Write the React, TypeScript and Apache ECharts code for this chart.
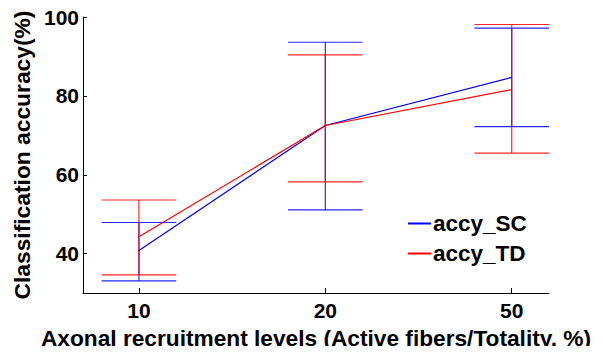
import React, { useEffect, useRef } from "react";
import * as echarts from "echarts";

const categories = ["10", "20", "50"];
const positions = [1, 2, 3];
const yTicks = [40, 60, 80, 100];

const scMean = [40.8, 72.5, 84.7];
const scUpper = [47.9, 93.6, 97.2];
const scLower = [33.1, 51.1, 72.2];

const tdMean = [44.3, 72.5, 81.6];
const tdUpper = [53.6, 90.4, 98.1];
const tdLower = [34.6, 58.2, 65.5];

const BLUE = "#0000ff";
const RED = "#ff0000";
const FONT = "Liberation Sans, Arial, sans-serif";

function errorSeries(name: string, lower: number[], upper: number[], color: string, z: number) {
  return {
    type: "custom",
    name: name + "_err",
    z,
    silent: true,
    data: positions.map((p, i) => [p, lower[i], upper[i]]),
    encode: { x: 0, y: [1, 2] },
    renderItem: (params: any, api: any) => {
      const x = api.value(0);
      const lo = api.coord([x, api.value(1)]);
      const hi = api.coord([x, api.value(2)]);
      const hw = api.size([0.2, 0])[0];
      const style = { stroke: color, lineWidth: 1.2, opacity: 0.85 };
      return {
        type: "group",
        children: [
          { type: "line", shape: { x1: lo[0], y1: lo[1], x2: hi[0], y2: hi[1] }, style },
          { type: "line", shape: { x1: lo[0] - hw, y1: lo[1], x2: lo[0] + hw, y2: lo[1] }, style },
          { type: "line", shape: { x1: hi[0] - hw, y1: hi[1], x2: hi[0] + hw, y2: hi[1] }, style },
        ],
      };
    },
  };
}

export default function App() {
  const ref = useRef<HTMLDivElement>(null);
  useEffect(() => {
    if (!ref.current) return;
    const chart = echarts.init(ref.current, undefined, { renderer: "svg" });
    chart.setOption({
      animation: false,
      backgroundColor: "#ffffff",
      textStyle: { fontFamily: FONT },
      grid: { left: 83, right: 54, top: 17, bottom: 53 },
      legend: {
        orient: "vertical",
        left: 403,
        top: 207,
        itemWidth: 23,
        itemHeight: 2,
        itemGap: 7,
        icon: "rect",
        data: [
          { name: "accy_SC", itemStyle: { color: BLUE } },
          { name: "accy_TD", itemStyle: { color: RED } },
        ],
        textStyle: { fontFamily: FONT, fontWeight: "bold", fontSize: 22.5, color: "#000", padding: [0, 0, 0, -3] },
      },
      xAxis: {
        type: "value",
        min: 0.7,
        max: 3.2,
        splitLine: { show: false },
        axisLine: { lineStyle: { color: "#000", width: 1 } },
        axisTick: { inside: true, length: 5, lineStyle: { color: "#000" }, customValues: positions },
        axisLabel: {
          customValues: positions,
          color: "#000",
          fontWeight: "bold",
          fontSize: 21,
          fontFamily: FONT,
          margin: 7,
          formatter: (v: number) => categories[positions.indexOf(Math.round(v))] ?? "",
        },
        name: "Axonal recruitment levels (Active fibers/Totality, %)",
        nameLocation: "middle",
        nameGap: 26,
        nameTextStyle: { color: "#000", fontWeight: "bold", fontSize: 22.7, fontFamily: FONT },
      },
      yAxis: {
        type: "value",
        min: 30,
        max: 100,
        splitLine: { show: false },
        axisLine: { show: true, lineStyle: { color: "#000", width: 1 } },
        axisTick: { show: true, inside: true, length: 4, lineStyle: { color: "#000" }, customValues: yTicks },
        axisLabel: {
          customValues: yTicks,
          color: "#000",
          fontWeight: "bold",
          fontSize: 21,
          fontFamily: FONT,
          margin: 4,
        },
        name: "Classification accuracy(%)",
        nameLocation: "middle",
        nameGap: 48,
        nameTextStyle: { color: "#000", fontWeight: "bold", fontSize: 22.8, fontFamily: FONT },
      },
      series: [
        errorSeries("accy_SC", scLower, scUpper, BLUE, 2),
        errorSeries("accy_TD", tdLower, tdUpper, RED, 3),
        {
          type: "line",
          name: "accy_SC",
          data: positions.map((p, i) => [p, scMean[i]]),
          symbol: "none",
          lineStyle: { color: BLUE, width: 1.2 },
          itemStyle: { color: BLUE },
          z: 4,
        },
        {
          type: "line",
          name: "accy_TD",
          data: positions.map((p, i) => [p, tdMean[i]]),
          symbol: "none",
          lineStyle: { color: RED, width: 1.2 },
          itemStyle: { color: RED },
          z: 5,
        },
      ],
    });
    return () => chart.dispose();
  }, []);
  return <div ref={ref} style={{ width: 603, height: 354, margin: -8 }} />;
}
